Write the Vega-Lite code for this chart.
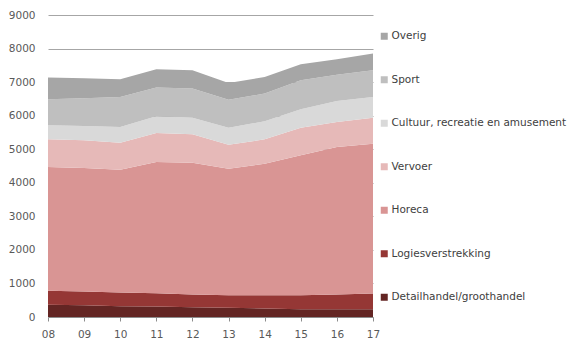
{
  "$schema": "https://vega.github.io/schema/vega-lite/v6.json",
  "width": 325,
  "height": 302,
  "autosize": {"type": "none"},
  "padding": {"left": 48, "top": 15, "right": 205, "bottom": 34},
  "background": "white",
  "config": {
    "view": {"stroke": null},
    "font": "DejaVu Sans"
  },
  "data": {
    "values": [
      {"jaar": "08", "sector": "Detailhandel/groothandel", "waarde": 364},
      {"jaar": "09", "sector": "Detailhandel/groothandel", "waarde": 352},
      {"jaar": "10", "sector": "Detailhandel/groothandel", "waarde": 322},
      {"jaar": "11", "sector": "Detailhandel/groothandel", "waarde": 313},
      {"jaar": "12", "sector": "Detailhandel/groothandel", "waarde": 292},
      {"jaar": "13", "sector": "Detailhandel/groothandel", "waarde": 274},
      {"jaar": "14", "sector": "Detailhandel/groothandel", "waarde": 253},
      {"jaar": "15", "sector": "Detailhandel/groothandel", "waarde": 233},
      {"jaar": "16", "sector": "Detailhandel/groothandel", "waarde": 233},
      {"jaar": "17", "sector": "Detailhandel/groothandel", "waarde": 233},
      {"jaar": "08", "sector": "Logiesverstrekking", "waarde": 417},
      {"jaar": "09", "sector": "Logiesverstrekking", "waarde": 408},
      {"jaar": "10", "sector": "Logiesverstrekking", "waarde": 409},
      {"jaar": "11", "sector": "Logiesverstrekking", "waarde": 397},
      {"jaar": "12", "sector": "Logiesverstrekking", "waarde": 379},
      {"jaar": "13", "sector": "Logiesverstrekking", "waarde": 376},
      {"jaar": "14", "sector": "Logiesverstrekking", "waarde": 397},
      {"jaar": "15", "sector": "Logiesverstrekking", "waarde": 417},
      {"jaar": "16", "sector": "Logiesverstrekking", "waarde": 438},
      {"jaar": "17", "sector": "Logiesverstrekking", "waarde": 468},
      {"jaar": "08", "sector": "Horeca", "waarde": 3687},
      {"jaar": "09", "sector": "Horeca", "waarde": 3678},
      {"jaar": "10", "sector": "Horeca", "waarde": 3659},
      {"jaar": "11", "sector": "Horeca", "waarde": 3907},
      {"jaar": "12", "sector": "Horeca", "waarde": 3928},
      {"jaar": "13", "sector": "Horeca", "waarde": 3770},
      {"jaar": "14", "sector": "Horeca", "waarde": 3919},
      {"jaar": "15", "sector": "Horeca", "waarde": 4167},
      {"jaar": "16", "sector": "Horeca", "waarde": 4393},
      {"jaar": "17", "sector": "Horeca", "waarde": 4464},
      {"jaar": "08", "sector": "Vervoer", "waarde": 826},
      {"jaar": "09", "sector": "Vervoer", "waarde": 826},
      {"jaar": "10", "sector": "Vervoer", "waarde": 805},
      {"jaar": "11", "sector": "Vervoer", "waarde": 865},
      {"jaar": "12", "sector": "Vervoer", "waarde": 844},
      {"jaar": "13", "sector": "Vervoer", "waarde": 716},
      {"jaar": "14", "sector": "Vervoer", "waarde": 725},
      {"jaar": "15", "sector": "Vervoer", "waarde": 826},
      {"jaar": "16", "sector": "Vervoer", "waarde": 746},
      {"jaar": "17", "sector": "Vervoer", "waarde": 776},
      {"jaar": "08", "sector": "Cultuur, recreatie en amusement", "waarde": 417},
      {"jaar": "09", "sector": "Cultuur, recreatie en amusement", "waarde": 426},
      {"jaar": "10", "sector": "Cultuur, recreatie en amusement", "waarde": 466},
      {"jaar": "11", "sector": "Cultuur, recreatie en amusement", "waarde": 498},
      {"jaar": "12", "sector": "Cultuur, recreatie en amusement", "waarde": 498},
      {"jaar": "13", "sector": "Cultuur, recreatie en amusement", "waarde": 507},
      {"jaar": "14", "sector": "Cultuur, recreatie en amusement", "waarde": 537},
      {"jaar": "15", "sector": "Cultuur, recreatie en amusement", "waarde": 546},
      {"jaar": "16", "sector": "Cultuur, recreatie en amusement", "waarde": 626},
      {"jaar": "17", "sector": "Cultuur, recreatie en amusement", "waarde": 614},
      {"jaar": "08", "sector": "Sport", "waarde": 776},
      {"jaar": "09", "sector": "Sport", "waarde": 827},
      {"jaar": "10", "sector": "Sport", "waarde": 894},
      {"jaar": "11", "sector": "Sport", "waarde": 856},
      {"jaar": "12", "sector": "Sport", "waarde": 865},
      {"jaar": "13", "sector": "Sport", "waarde": 835},
      {"jaar": "14", "sector": "Sport", "waarde": 826},
      {"jaar": "15", "sector": "Sport", "waarde": 864},
      {"jaar": "16", "sector": "Sport", "waarde": 787},
      {"jaar": "17", "sector": "Sport", "waarde": 797},
      {"jaar": "08", "sector": "Overig", "waarde": 647},
      {"jaar": "09", "sector": "Overig", "waarde": 596},
      {"jaar": "10", "sector": "Overig", "waarde": 528},
      {"jaar": "11", "sector": "Overig", "waarde": 545},
      {"jaar": "12", "sector": "Overig", "waarde": 546},
      {"jaar": "13", "sector": "Overig", "waarde": 495},
      {"jaar": "14", "sector": "Overig", "waarde": 495},
      {"jaar": "15", "sector": "Overig", "waarde": 478},
      {"jaar": "16", "sector": "Overig", "waarde": 457},
      {"jaar": "17", "sector": "Overig", "waarde": 498}
    ]
  },
  "transform": [
    {"calculate": "indexof(['Detailhandel/groothandel','Logiesverstrekking','Horeca','Vervoer','Cultuur, recreatie en amusement','Sport','Overig'], datum.sector)", "as": "volgorde"}
  ],
  "mark": {"type": "area", "opacity": 1},
  "encoding": {
    "x": {
      "field": "jaar",
      "type": "ordinal",
      "scale": {"type": "point", "padding": 0},
      "axis": {
        "title": null,
        "labelAngle": 0,
        "labelFontSize": 10.5,
        "labelColor": "#595959",
        "labelPadding": 8,
        "domainColor": "#8c8c8c",
        "tickColor": "#8c8c8c",
        "tickSize": 4,
        "grid": false
      }
    },
    "y": {
      "field": "waarde",
      "type": "quantitative",
      "stack": "zero",
      "scale": {"domain": [0, 9000], "nice": false},
      "axis": {
        "title": null,
        "values": [0, 1000, 2000, 3000, 4000, 5000, 6000, 7000, 8000, 9000],
        "format": "d",
        "labelFontSize": 10.5,
        "labelColor": "#595959",
        "labelPadding": 13,
        "ticks": false,
        "domain": false,
        "grid": true,
        "gridColor": "#a6a6a6",
        "gridWidth": 1
      }
    },
    "color": {
      "field": "sector",
      "type": "nominal",
      "scale": {
        "domain": ["Overig", "Sport", "Cultuur, recreatie en amusement", "Vervoer", "Horeca", "Logiesverstrekking", "Detailhandel/groothandel"],
        "range": ["#a6a6a6", "#bfbfbf", "#d9d9d9", "#e6b9b8", "#d99594", "#953735", "#632523"]
      },
      "legend": {
        "title": null,
        "orient": "none",
        "legendX": 331,
        "legendY": 16,
        "padding": 0,
        "symbolType": "square",
        "symbolSize": 49,
        "symbolStrokeWidth": 0,
        "labelFontSize": 10.5,
        "labelColor": "#404040",
        "labelOffset": 2,
        "rowPadding": 32.5,
        "labelLimit": 300
      }
    },
    "order": {"field": "volgorde", "type": "quantitative", "sort": "ascending"}
  }
}
